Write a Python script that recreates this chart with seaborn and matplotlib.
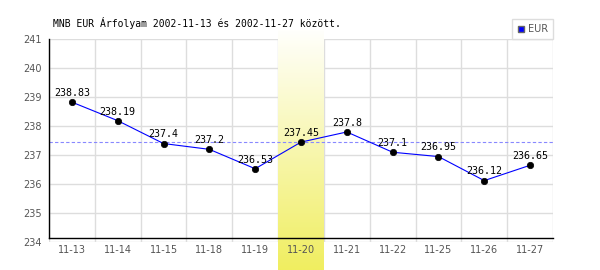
import numpy as np
import pandas as pd
import matplotlib
matplotlib.use('Agg')
import matplotlib.pyplot as plt
import seaborn as sns
from matplotlib.lines import Line2D

# ---- data ----
dates = ['11-13', '11-14', '11-15', '11-18', '11-19', '11-20',
         '11-21', '11-22', '11-25', '11-26', '11-27']
rates = [238.83, 238.19, 237.4, 237.2, 236.53, 237.45,
         237.8, 237.1, 236.95, 236.12, 236.65]
rate_labels = ['238.83', '238.19', '237.4', '237.2', '236.53', '237.45',
               '237.8', '237.1', '236.95', '236.12', '236.65']
highlight = '11-20'
ref_rate = 237.45
yticks = [234, 235, 236, 237, 238, 239, 240, 241]
title = 'MNB EUR Árfolyam 2002-11-13 és 2002-11-27 között.'
series = 'EUR'

sns.set_theme(style='white')
plt.rcParams['font.family'] = ['DejaVu Sans']

df = pd.DataFrame({'pos': np.arange(len(dates)), 'rate': rates, 'date': dates})

W, H = 600, 270
fig = plt.figure(figsize=(W / 100, H / 100), dpi=100)
fig.patch.set_facecolor('white')
rect = [49 / W, 1 - 242 / H, (553 - 49) / W, (242 - 39.3) / H]

xlim = (-0.5, len(dates) - 0.5)
ylim = (yticks[0], yticks[-1])

# background axes: grid + highlight band
ax_bg = fig.add_axes(rect, zorder=0)
ax_bg.set_xlim(*xlim)
ax_bg.set_ylim(*ylim)
ax_bg.set_xticks(np.arange(len(dates) + 1) - 0.5)
ax_bg.set_yticks(yticks)
ax_bg.grid(True, color='#dddddd', lw=1)
ax_bg.set_axisbelow(True)
ax_bg.tick_params(labelbottom=False, labelleft=False, length=0)
for s in ax_bg.spines.values():
    s.set_visible(False)
ax_bg.set_facecolor('white')

inv = ax_bg.transData.inverted()
ybot = inv.transform(fig.transFigure.transform((0, 0)))[1]
ytop = inv.transform(fig.transFigure.transform((0, 1 - 30 / H)))[1]
top_c = np.array([255, 255, 252]) / 255
bot_c = np.array([240, 238, 96]) / 255
t = np.linspace(0, 1, 200)[:, None]
grad = (top_c[None, :] * (1 - t) + bot_c[None, :] * t)[:, None, :]
hi = dates.index(highlight)
ax_bg.imshow(grad, extent=(hi - 0.5, hi + 0.5, ybot, ytop), origin='upper',
             aspect='auto', interpolation='bilinear', clip_on=False, zorder=1)
ax_bg.set_xlim(*xlim)
ax_bg.set_ylim(*ylim)

# foreground axes
ax = fig.add_axes(rect, zorder=1)
ax.patch.set_alpha(0)
ax.axhline(ref_rate, color='#8888ff', ls=(0, (3, 2)), lw=0.8, zorder=2)
sns.lineplot(data=df, x='pos', y='rate', ax=ax, color='#0000ff', lw=0.8,
             marker='o', markersize=4.6, markerfacecolor='black',
             markeredgecolor='black', markeredgewidth=0.5, zorder=3)
for x, y, lab in zip(df['pos'], df['rate'], rate_labels):
    ax.annotate(lab, (x, y), xytext=(0, 3.0), textcoords='offset points',
                ha='center', va='bottom', fontsize=7.2, family='DejaVu Sans Mono',
                color='black', zorder=4)
ax.set_xlim(*xlim)
ax.set_ylim(*ylim)
ax.set_xticks(df['pos'])
ax.set_xticklabels(dates)
ax.set_yticks(yticks)
ax.set_xlabel('')
ax.set_ylabel('')
ax.tick_params(length=0, labelsize=7, colors='#555555')
ax.tick_params(axis='x', pad=5)
ax.tick_params(axis='y', pad=5)
ax.grid(False)
ax.spines['top'].set_visible(False)
ax.spines['right'].set_visible(False)
ax.spines['left'].set_color('black')
ax.spines['left'].set_linewidth(1)
ax.spines['bottom'].set_color('black')
ax.spines['bottom'].set_linewidth(1)
ax.spines['bottom'].set_position(('data', 234.13))
ax.spines['left'].set_bounds(234.13, 241)

handle = Line2D([], [], marker='s', color='none', markerfacecolor='#0000ff',
                markeredgecolor='#666666', markersize=5)
leg = ax.legend([handle], [series], loc='lower right', bbox_to_anchor=(1, 1),
                borderaxespad=0, frameon=True, fancybox=False, edgecolor='#dddddd',
                fontsize=7, handlelength=0.7, handletextpad=0.3, borderpad=0.55,
                labelcolor='#555555', framealpha=1)
leg.get_frame().set_linewidth(1)

fig.text(53 / W, 1 - 23 / H, title, ha='left', va='center', fontsize=7,
         family='DejaVu Sans Mono', color='black')

fig.savefig('out.png', dpi=100)
